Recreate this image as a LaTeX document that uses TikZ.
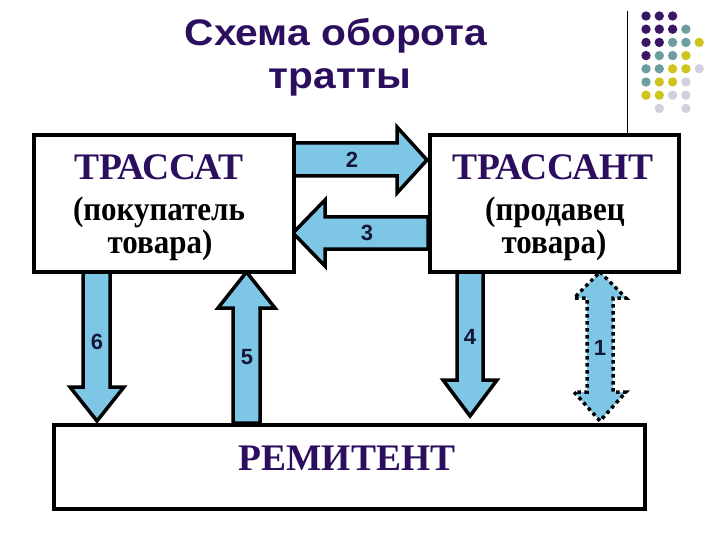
\documentclass[tikz,border=0pt]{standalone}
\usepackage{fontspec}
\usepackage{graphicx}
\setmainfont{Liberation Serif}
\newfontfamily\arialfont{Liberation Sans}
\definecolor{ttlpurple}{RGB}{44,14,94}
\definecolor{arrowblue}{RGB}{126,198,230}
\definecolor{numnavy}{RGB}{20,22,55}
\definecolor{dotP}{RGB}{58,22,100}
\definecolor{dotT}{RGB}{106,158,160}
\definecolor{dotY}{RGB}{206,196,32}
\definecolor{dotL}{RGB}{208,208,224}
\newcommand{\tallsub}[1]{\scalebox{1}[1.1]{#1}}
\newcommand{\widettl}[1]{\scalebox{1.1}[1]{#1}}
\tikzset{
  boxstyle/.style={draw=black,line width=4pt,fill=white},
  blockarrow/.style={draw=black,line width=3.5pt,fill=arrowblue,line join=miter},
  dottedarrow/.style={draw=black,line width=3.5pt,fill=arrowblue,dash pattern=on 3.5pt off 3.5pt},
  numlabel/.style={font=\arialfont\bfseries\fontsize{22}{24}\selectfont,text=numnavy,inner sep=0pt},
  headtext/.style={font=\bfseries\fontsize{37.5}{40}\selectfont,text=ttlpurple,inner sep=0pt,anchor=base},
  subtext/.style={font=\bfseries\fontsize{31}{33}\selectfont,text=black,inner sep=0pt,anchor=base},
  titletext/.style={font=\arialfont\bfseries\fontsize{37}{39}\selectfont,text=ttlpurple,inner sep=0pt,anchor=base},
}
\begin{document}
\begin{tikzpicture}[x=1pt,y=-1pt]
\useasboundingbox (0,0) rectangle (720,540);
% title
\node[titletext] (t1) at (336,46) {\widettl{Схема оборота}};
\node[titletext] (t2) at (340,89) {\widettl{тратты}};
% decorative line and dots
\coordinate (vtop) at (627,11);
\coordinate (vbot) at (627,133);
\draw[line width=1pt] (vtop) -- (vbot);
\foreach \row/\list in {0/{P,P,P,N,N},1/{P,P,P,T,N},2/{P,P,T,T,Y},3/{P,T,T,Y,N},4/{T,T,Y,Y,L},5/{T,Y,Y,L,N},6/{Y,Y,L,L,N},7/{N,L,N,L,N}}{
  \foreach \c [count=\col from 0] in \list {
    \if N\c\else
      \fill[dot\c] ({646+13.3*\col},{16+13.2*\row}) circle (4.7);
    \fi
  }
}
% arrows
\draw[blockarrow] (292,143) -- (397,143) -- (397,127) -- (427,160) -- (397,193) -- (397,176) -- (292,176) -- cycle;
\draw[blockarrow] (428,217) -- (325,217) -- (325,200) -- (293,233) -- (325,266) -- (325,249) -- (428,249) -- cycle;
\draw[blockarrow] (83,270) -- (83,387) -- (70,387) -- (97,421) -- (124,387) -- (110,387) -- (110,270) -- cycle;
\draw[blockarrow] (233,423) -- (233,308) -- (218,308) -- (246.5,272) -- (275,308) -- (260,308) -- (260,423) -- cycle;
\draw[blockarrow] (457,270) -- (457,380) -- (443,380) -- (470,416) -- (497,380) -- (483,380) -- (483,270) -- cycle;
\draw[dottedarrow] (600,272) -- (626,298) -- (613,298) -- (613,392) -- (626,392) -- (600,421) -- (574,392) -- (587,392) -- (587,298) -- (574,298) -- cycle;
% boxes
\node[boxstyle,minimum width=260pt,minimum height=137pt,anchor=north west] (trassat) at (32,133) {};
\node[boxstyle,minimum width=249pt,minimum height=137pt,anchor=north west] (trassant) at (428,133) {};
\node[boxstyle,minimum width=591pt,minimum height=84pt,anchor=north west] (remitent) at (52,423) {};
% box texts
\node[headtext] (a1) at (159,180) {ТРАССАТ};
\node[subtext] (a2) at (159,221) {\tallsub{(покупатель}};
\node[subtext] (a3) at (160,254) {\tallsub{товара)}};
\node[headtext] (b1) at (553,180) {ТРАССАНТ};
\node[subtext] (b2) at (555,221) {\tallsub{(продавец}};
\node[subtext] (b3) at (554,254) {\tallsub{товара)}};
\node[headtext] (c1) at (347,470) {РЕМИТЕНТ};
% numbers
\node[numlabel] (n2) at (352,160) {2};
\node[numlabel] (n3) at (367,233) {3};
\node[numlabel] (n6) at (97,342) {6};
\node[numlabel] (n5) at (247,357) {5};
\node[numlabel] (n4) at (470,337) {4};
\node[numlabel] (n1) at (600,348) {1};
\end{tikzpicture}
\end{document}
